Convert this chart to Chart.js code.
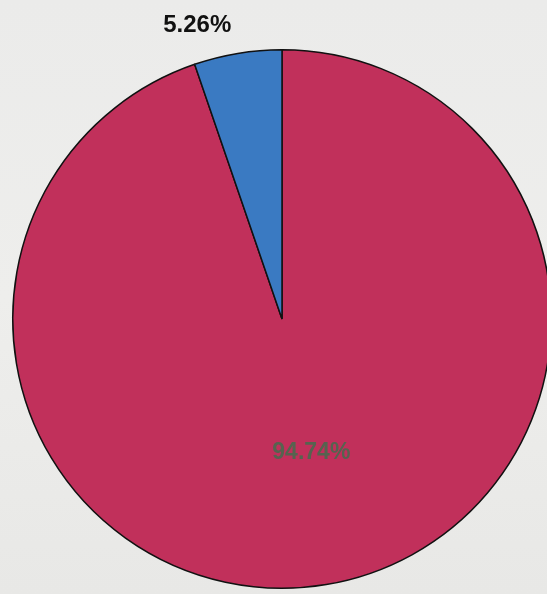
<!DOCTYPE html>
<html>
<head>
<meta charset="utf-8">
<script src="https://cdn.jsdelivr.net/npm/chart.js@4/dist/chart.umd.min.js"></script>
<style>
  html, body { margin: 0; padding: 0; overflow: hidden; width: 547px; height: 594px;
    background: linear-gradient(180deg, #ebebea 0%, #eeeeec 50%, #e8e8e6 100%); }
  #wrap { position: absolute; left: 0; top: 0; width: 580px; height: 620px; }
</style>
</head>
<body>
<div id="wrap"><canvas id="c" width="580" height="620"></canvas></div>
<script>
const categories = ["Other", "Share"];
const values = [94.74, 5.26];
const labelsText = ["94.74%", "5.26%"];
const colors = ["#c1305b", "#3a7ac2"];

const labelPlugin = {
  id: 'sliceLabels',
  afterDatasetsDraw(chart) {
    const ctx = chart.ctx;
    const meta = chart.getDatasetMeta(0);
    meta.data.forEach((arc, i) => {
      const p = arc.getProps(['x', 'y', 'startAngle', 'endAngle', 'outerRadius'], true);
      const mid = (p.startAngle + p.endAngle) / 2;
      ctx.save();
      ctx.textAlign = 'center';
      ctx.textBaseline = 'middle';
      if (i === 1) {
        const r = p.outerRadius * 1.1;
        ctx.font = 'bold 24px "Liberation Sans", Arial, sans-serif';
        ctx.fillStyle = '#111111';
        ctx.fillText(labelsText[i], p.x + Math.cos(mid) * r - 36, p.y + Math.sin(mid) * r - 1);
      } else {
        const r = p.outerRadius * 0.51;
        ctx.font = 'bold 23px "Liberation Sans", Arial, sans-serif';
        ctx.fillStyle = '#56634f';
        ctx.fillText(labelsText[i], p.x + Math.cos(mid - 0.05) * r, p.y + Math.sin(mid - 0.05) * r);
      }
      ctx.restore();
    });
  }
};

new Chart(document.getElementById('c'), {
  type: 'pie',
  data: {
    labels: categories,
    datasets: [{
      data: values,
      backgroundColor: colors,
      borderColor: '#111111',
      borderWidth: 1.5,
      borderAlign: 'center'
    }]
  },
  options: {
    responsive: false,
    animation: false,
    rotation: 0,
    layout: { padding: { left: 12, right: 28, top: 49, bottom: 31 } },
    plugins: {
      legend: { display: false },
      tooltip: { enabled: false }
    }
  },
  plugins: [labelPlugin]
});
</script>
</body>
</html>
